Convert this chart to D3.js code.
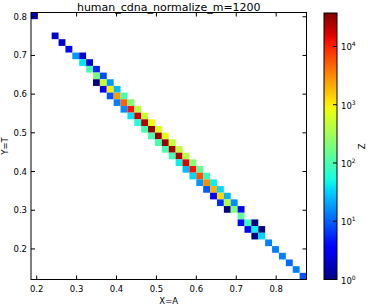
<!DOCTYPE html>
<html>
<head>
<meta charset="utf-8">
<script src="https://cdn.jsdelivr.net/npm/d3@7"></script>
<style>
    body { margin: 0; background: #fff; }
    svg { display: block; font-family: "DejaVu Sans", sans-serif; }
</style>
</head>
<body>
<div id="root"></div>
<script>
    const title = "human_cdna_normalize_m=1200"
    const xLabel = "X=A"
    const yLabel = "Y=T"
    const zLabel = "Z"

    // histogram extent and number of bins per axis
    const xExtent = [0.1857, 0.876]
    const yExtent = [0.121, 0.811]
    const nBins = 40

    // occupied bins: x bin index, y bin index (0 = bottom), count
    const binX = [0, 3, 4, 5, 6, 7, 7, 8, 8, 9, 9, 10, 9, 10, 11, 10, 11, 12, 11, 12, 13, 12, 13, 14, 13, 14, 15,
        14, 15, 16, 15, 16, 17, 16, 17, 18, 17, 18, 19, 18, 19, 20, 19, 20, 21, 20, 21, 22, 21, 22, 23, 22, 23, 24,
        23, 24, 25, 24, 25, 26, 25, 26, 27, 26, 27, 28, 27, 28, 29, 28, 29, 30, 30, 30, 31, 32, 31, 32, 33, 32, 33,
        34, 35, 36, 37, 38, 39]
    const binRow = [0, 3, 4, 5, 6, 6, 7, 7, 8, 8, 9, 9, 10, 10, 10, 11, 11, 11, 12, 12, 12, 13, 13, 13, 14, 14, 14,
        15, 15, 15, 16, 16, 16, 17, 17, 17, 18, 18, 18, 19, 19, 19, 20, 20, 20, 21, 21, 21, 22, 22, 22, 23, 23, 23,
        24, 24, 24, 25, 25, 25, 26, 26, 26, 27, 27, 27, 28, 28, 28, 29, 29, 29, 30, 31, 31, 31, 32, 32, 32, 33, 33,
        34, 35, 36, 37, 38, 39]
    const binY = binRow.map(r => nBins - 1 - r)
    const counts = [2, 2, 2, 4, 18, 2, 40, 2, 100, 5, 200, 8, 1, 500, 18, 3, 1000, 26, 9, 2600, 100, 14, 5000, 200, 16, 12000, 450,
        40, 19000, 500, 60, 24000, 800, 100, 30000, 700, 100, 30000, 700, 100, 30000, 500, 100, 27000, 450, 90, 24000, 400, 45, 16000, 230, 26, 12000, 140,
        35, 6000, 80, 18, 3000, 45, 9, 2000, 35, 3.5, 1300, 24, 6, 400, 16, 1, 200, 3.5, 130, 4, 80, 1, 3, 45, 1, 1, 35,
        14, 14, 14, 11, 14, 9]

    const zRange = [1, 37500]
    const xTicks = [0.2, 0.3, 0.4, 0.5, 0.6, 0.7, 0.8]
    const yTicks = [0.2, 0.3, 0.4, 0.5, 0.6, 0.7, 0.8]
    const zTicks = [1, 10, 100, 1000, 10000]

    const W = 368
    const H = 305
    const plot = { left: 31, right: 306.5, top: 12.5, bottom: 279.5 }
    const cbar = { left: 324, right: 337, top: 13, bottom: 279.5 }

    const svg = d3.select("#root")
        .append("svg")
        .attr("width", W)
        .attr("height", H)

    const x = d3.scaleLinear().domain(xExtent).range([plot.left, plot.right])
    const y = d3.scaleLinear().domain(yExtent).range([plot.bottom, plot.top])

    const ch = (xs, ys) => d3.scaleLinear().domain(xs).range(ys).clamp(true)
    const jetR = ch([0, 0.35, 0.66, 0.89, 1], [0, 0, 1, 1, 0.5])
    const jetG = ch([0, 0.125, 0.375, 0.64, 0.91, 1], [0, 0, 1, 1, 0, 0])
    const jetB = ch([0, 0.11, 0.34, 0.65, 1], [0.5, 1, 1, 0, 0])
    const jet = t => d3.rgb(jetR(t) * 255, jetG(t) * 255, jetB(t) * 255).toString()

    const color = d3.scaleSequentialLog(jet).domain(zRange)

    const xEdges = d3.range(nBins + 1).map(i => xExtent[0] + i * (xExtent[1] - xExtent[0]) / nBins)
    const yEdges = d3.range(nBins + 1).map(i => yExtent[0] + i * (yExtent[1] - yExtent[0]) / nBins)

    const cells = counts.map((c, i) => ({ i: binX[i], j: binY[i], c }))

    svg.append("g")
        .selectAll("rect")
        .data(cells)
        .enter()
        .append("rect")
        .attr("x", d => x(xEdges[d.i]))
        .attr("y", d => y(yEdges[d.j + 1]))
        .attr("width", d => x(xEdges[d.i + 1]) - x(xEdges[d.i]))
        .attr("height", d => y(yEdges[d.j]) - y(yEdges[d.j + 1]))
        .attr("fill", d => color(d.c))

    // axes frame with inward ticks on all sides
    const tickLen = 4
    const frame = svg.append("g").attr("stroke", "#000").attr("stroke-width", 1)
    frame.append("rect")
        .attr("x", plot.left).attr("y", plot.top)
        .attr("width", plot.right - plot.left).attr("height", plot.bottom - plot.top)
        .attr("fill", "none")

    xTicks.forEach(t => {
        frame.append("line").attr("x1", x(t)).attr("x2", x(t)).attr("y1", plot.bottom).attr("y2", plot.bottom - tickLen)
        frame.append("line").attr("x1", x(t)).attr("x2", x(t)).attr("y1", plot.top).attr("y2", plot.top + tickLen)
    })
    yTicks.forEach(t => {
        frame.append("line").attr("y1", y(t)).attr("y2", y(t)).attr("x1", plot.left).attr("x2", plot.left + tickLen)
        frame.append("line").attr("y1", y(t)).attr("y2", y(t)).attr("x1", plot.right).attr("x2", plot.right - tickLen)
    })

    const fs = 8.5
    svg.append("g")
        .selectAll("text")
        .data(xTicks)
        .enter()
        .append("text")
        .attr("x", d => x(d))
        .attr("y", plot.bottom + 12)
        .attr("text-anchor", "middle")
        .attr("font-size", fs)
        .text(d => d.toFixed(1))

    svg.append("g")
        .selectAll("text")
        .data(yTicks)
        .enter()
        .append("text")
        .attr("x", plot.left - 4)
        .attr("y", d => y(d) + 3)
        .attr("text-anchor", "end")
        .attr("font-size", fs)
        .text(d => d.toFixed(1))

    svg.append("text")
        .attr("x", (plot.left + plot.right) / 2)
        .attr("y", 303.5)
        .attr("text-anchor", "middle")
        .attr("font-size", fs)
        .text(xLabel)

    svg.append("text")
        .attr("transform", `translate(7.5, ${(plot.top + plot.bottom) / 2}) rotate(-90)`)
        .attr("text-anchor", "middle")
        .attr("font-size", fs)
        .text(yLabel)

    svg.append("text")
        .attr("x", (plot.left + plot.right) / 2)
        .attr("y", 10.5)
        .attr("text-anchor", "middle")
        .attr("font-size", 11)
        .text(title)

    // colorbar
    const grad = svg.append("defs")
        .append("linearGradient")
        .attr("id", "jetgrad")
        .attr("x1", 0).attr("y1", 1).attr("x2", 0).attr("y2", 0)
    grad.selectAll("stop")
        .data(d3.range(0, 1.0001, 0.02))
        .enter()
        .append("stop")
        .attr("offset", d => d)
        .attr("stop-color", d => jet(d))

    svg.append("rect")
        .attr("x", cbar.left).attr("y", cbar.top)
        .attr("width", cbar.right - cbar.left).attr("height", cbar.bottom - cbar.top)
        .attr("fill", "url(#jetgrad)")
        .attr("stroke", "#000")
        .attr("stroke-width", 1)

    const z = d3.scaleLog().domain(zRange).range([cbar.bottom, cbar.top])

    svg.append("g")
        .selectAll("line")
        .data(zTicks)
        .enter()
        .append("line")
        .attr("x1", cbar.right).attr("x2", cbar.right - tickLen)
        .attr("y1", d => z(d)).attr("y2", d => z(d))
        .attr("stroke", "#000")

    const zl = svg.append("g")
        .selectAll("text")
        .data(zTicks)
        .enter()
        .append("text")
        .attr("x", cbar.right + 4)
        .attr("y", d => z(d) + 4)
        .attr("font-size", fs)
    zl.append("tspan").text("10")
    zl.append("tspan")
        .attr("dy", -4)
        .attr("font-size", 6)
        .text(d => Math.round(Math.log10(d)))

    svg.append("text")
        .attr("transform", `translate(364.5, ${(cbar.top + cbar.bottom) / 2}) rotate(-90)`)
        .attr("text-anchor", "middle")
        .attr("font-size", fs)
        .text(zLabel)
</script>
</body>
</html>
